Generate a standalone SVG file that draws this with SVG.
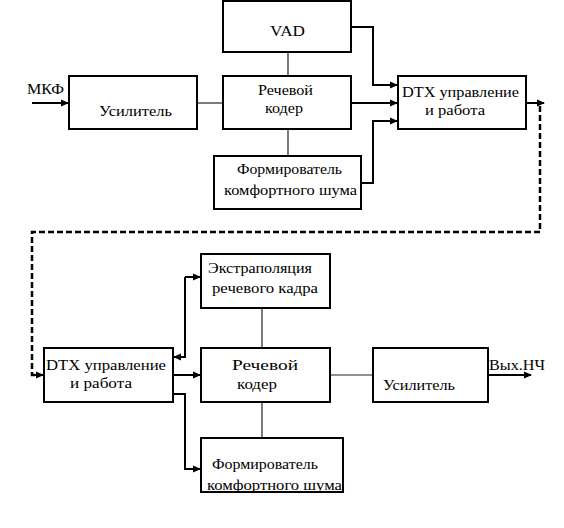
<svg xmlns="http://www.w3.org/2000/svg" width="564" height="528" viewBox="0 0 564 528">
<style>
.box{fill:#fff;stroke:#000;stroke-width:2}
.t{font-family:"Liberation Serif","DejaVu Serif","Times New Roman",serif;font-size:15px;fill:#000}
.thin{fill:none;stroke:#222;stroke-width:1.2}
.arr{fill:none;stroke:#000;stroke-width:2;marker-end:url(#ah)}
.ln{fill:none;stroke:#000;stroke-width:2}
.dash{fill:none;stroke:#000;stroke-width:2.5;stroke-dasharray:6 3}
</style>
<defs>
<marker id="ah" markerWidth="8" markerHeight="8" refX="7" refY="4" orient="auto" markerUnits="userSpaceOnUse">
<path d="M0,0.5 L8,4 L0,7.5 Z" fill="#000"/>
</marker>
</defs>
<rect width="564" height="528" fill="#fff"/>
<g id="connectors">
<path class="arr" d="M32,103 H68"/>
<path class="thin" d="M197,103 H223"/>
<path class="thin" d="M288,52 V76"/>
<path class="thin" d="M288,129 V156"/>
<path class="arr" d="M351,27 H373 V85 H397"/>
<path class="arr" d="M351,103 H397"/>
<path class="arr" d="M361,183 H373 V121 H397"/>
<path class="arr" d="M526,103 H544"/>
<path class="dash" d="M540,106 V232 H32 V375 H36"/>
<path class="arr" d="M32,375 H43"/>
<path class="arr" d="M173,375 H200"/>
<path class="arr" d="M185,277 H200"/>
<path class="ln" d="M185,277 V357 H180"/>
<path class="arr" d="M180,357 H174"/>
<path class="arr" d="M173,394 H185 V469 H200"/>
<path class="thin" d="M262,308 V348"/>
<path class="thin" d="M262,402 V438"/>
<path class="thin" d="M330,375 H373"/>
<path class="arr" d="M488,375 H531"/>
</g>
<g id="mkf"><text class="t" x="27" y="94" textLength="37" lengthAdjust="spacingAndGlyphs">МКФ</text></g>
<g id="amp1">
<rect class="box" x="69" y="76" width="128" height="53"/>
<text class="t" x="99" y="116" textLength="73" lengthAdjust="spacingAndGlyphs">Усилитель</text>
</g>
<g id="vad">
<rect class="box" x="223" y="1" width="128" height="51"/>
<text class="t" x="270" y="36" textLength="35" lengthAdjust="spacingAndGlyphs">VAD</text>
</g>
<g id="coder1">
<rect class="box" x="223" y="76" width="128" height="53"/>
<text class="t" x="258" y="95" textLength="55" lengthAdjust="spacingAndGlyphs">Речевой</text>
<text class="t" x="265" y="113" textLength="38" lengthAdjust="spacingAndGlyphs">кодер</text>
</g>
<g id="noise1">
<rect class="box" x="214" y="156" width="147" height="53"/>
<text class="t" x="237" y="174" textLength="105" lengthAdjust="spacingAndGlyphs">Формирователь</text>
<text class="t" x="224" y="195" textLength="133" lengthAdjust="spacingAndGlyphs">комфортного шума</text>
</g>
<g id="dtx1">
<rect class="box" x="398" y="76" width="128" height="53"/>
<text class="t" x="402" y="97" textLength="117" lengthAdjust="spacingAndGlyphs">DTX управление</text>
<text class="t" x="425" y="115" textLength="60" lengthAdjust="spacingAndGlyphs">и работа</text>
</g>
<g id="dtx2">
<rect class="box" x="44" y="348" width="129" height="54"/>
<text class="t" x="46" y="370" textLength="120" lengthAdjust="spacingAndGlyphs">DTX  управление</text>
<text class="t" x="70" y="388" textLength="62" lengthAdjust="spacingAndGlyphs">и работа</text>
</g>
<g id="extrap">
<rect class="box" x="201" y="254" width="129" height="54"/>
<text class="t" x="208" y="273" textLength="104" lengthAdjust="spacingAndGlyphs">Экстраполяция</text>
<text class="t" x="212" y="293" textLength="106" lengthAdjust="spacingAndGlyphs">речевого кадра</text>
</g>
<g id="coder2">
<rect class="box" x="201" y="348" width="129" height="54"/>
<text class="t" x="232" y="370" textLength="66" lengthAdjust="spacingAndGlyphs">Речевой</text>
<text class="t" x="237" y="389" textLength="40" lengthAdjust="spacingAndGlyphs">кодер</text>
</g>
<g id="noise2">
<rect class="box" x="201" y="438" width="142" height="54"/>
<text class="t" x="212" y="469" textLength="106" lengthAdjust="spacingAndGlyphs">Формирователь</text>
<text class="t" x="207" y="490" textLength="135" lengthAdjust="spacingAndGlyphs">комфортного шума</text>
</g>
<g id="amp2">
<rect class="box" x="373" y="348" width="115" height="54"/>
<text class="t" x="383" y="390" textLength="72" lengthAdjust="spacingAndGlyphs">Усилитель</text>
</g>
<g id="out"><text class="t" x="489" y="370" textLength="56" lengthAdjust="spacingAndGlyphs">Вых.НЧ</text></g>
</svg>
